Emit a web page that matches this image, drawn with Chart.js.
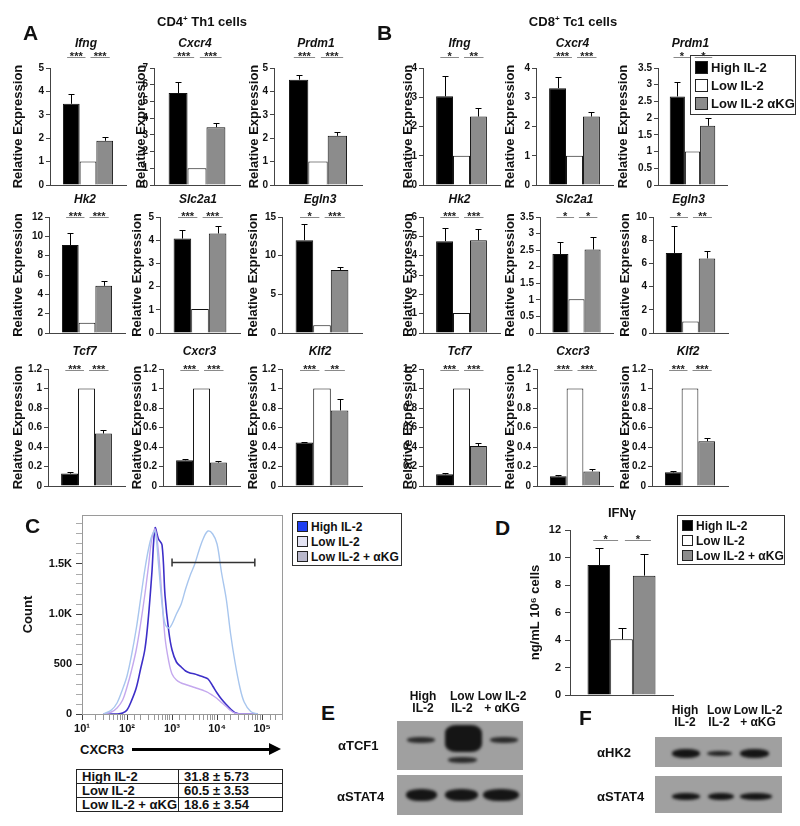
<!DOCTYPE html>
<html>
<head>
<meta charset="utf-8">
<title>IL-2 / aKG figure</title>
<script src="https://cdn.jsdelivr.net/npm/chart.js@4.4.1/dist/chart.umd.min.js"></script>
<style>
  body { margin: 0; background: #fff; }
  #fig { position: relative; width: 800px; height: 826px; overflow: hidden; font-family: "Liberation Sans", Arial, sans-serif; font-weight: bold; color: #111; }
  #fig canvas, #fig .abs { position: absolute; }
  .letter { font-size: 21px; line-height: 1; }
  .head { font-size: 13px; line-height: 1; text-align: center; white-space: nowrap; }
  .head sup { font-size: 8px; line-height: 0; vertical-align: 5px; }
  .legend { border: 1.5px solid #333; white-space: nowrap; }
  .legend .row { display: flex; align-items: center; }
  .legend .sw { display: inline-block; border: 1px solid #222; box-sizing: border-box; margin-right: 3px; }
  table.pct { border-collapse: collapse; font-size: 13px; width: 207px; }
  table.pct td { border: 1.5px solid #222; height: 13px; line-height: 13px; padding: 0 0 0 5px; white-space: nowrap; }
  .blot { background: #a0a0a0; overflow: hidden; }
  .band { position: absolute; background: #151515; border-radius: 45%; filter: blur(1.5px); }
  .lane { font-size: 12px; line-height: 12px; text-align: center; white-space: nowrap; width: 60px; }
  .ab { font-size: 13px; line-height: 1; white-space: nowrap; }
</style>
</head>
<body>
<div id="fig"></div>
<script>
// ---- data ----
const conditions = ['High IL-2', 'Low IL-2', 'Low IL-2 αKG'];
const genes = ['Ifng', 'Cxcr4', 'Prdm1', 'Hk2', 'Slc2a1', 'Egln3', 'Tcf7', 'Cxcr3', 'Klf2'];

// A: CD4+ Th1 cells
const th1High = [3.47, 5.5, 4.5, 9.1, 4.07, 12.0, 0.127, 0.264, 0.446];
const th1HighErr = [0.42, 0.66, 0.21, 1.25, 0.39, 2.14, 0.017, 0.016, 0.006];
const th1Low = [1, 1, 1, 1.05, 1.03, 0.99, 1, 1, 1];
const th1Akg = [1.89, 3.46, 2.1, 4.88, 4.29, 8.15, 0.538, 0.24, 0.775];
const th1AkgErr = [0.15, 0.24, 0.16, 0.45, 0.32, 0.43, 0.04, 0.014, 0.12];
const th1Stars = [['***', '***'], ['***', '***'], ['***', '***'], ['***', '***'], ['***', '***'], ['*', '***'], ['***', '***'], ['***', '***'], ['***', '**']];
const th1YMax = [5, 7, 5, 12, 5, 15, 1.2, 1.2, 1.2];
const th1YStep = [1, 1, 1, 2, 1, 5, 0.2, 0.2, 0.2];

// B: CD8+ Tc1 cells
const tc1High = [3.03, 3.31, 2.65, 4.75, 2.38, 6.9, 0.12, 0.1, 0.14];
const tc1HighErr = [0.71, 0.38, 0.42, 0.68, 0.37, 2.32, 0.014, 0.008, 0.017];
const tc1Low = [1, 1, 1, 1.03, 1.02, 1, 1, 1, 1];
const tc1Akg = [2.34, 2.34, 1.77, 4.8, 2.52, 6.43, 0.41, 0.15, 0.46];
const tc1AkgErr = [0.29, 0.17, 0.23, 0.6, 0.38, 0.66, 0.034, 0.02, 0.034];
const tc1Stars = [['*', '**'], ['***', '***'], ['*', '*'], ['***', '***'], ['*', '*'], ['*', '**'], ['***', '***'], ['***', '***'], ['***', '***']];
const tc1YMax = [4, 4, 3.5, 6, 3.5, 10, 1.2, 1.2, 1.2];
const tc1YStep = [1, 1, 0.5, 1, 0.5, 2, 0.2, 0.2, 0.2];

// C: CXCR3 histogram
const flowNames = ['High IL-2', 'Low IL-2', 'Low IL-2 + αKG'];
const cxcr3Bins = [30, 45, 60, 80, 100, 125, 160, 200, 250, 300, 355, 420, 500, 600, 700, 850, 1000, 1250, 1600, 2000, 2500, 3200, 4000, 5000, 6300, 8000, 10000, 12500, 16000, 20000, 25000, 32000, 40000, 56000, 80000];
const highCounts = [0, 0, 0, 10, 40, 130, 260, 450, 650, 980, 1400, 1860, 1750, 1690, 1180, 820, 640, 520, 470, 430, 410, 400, 385, 370, 350, 280, 210, 150, 95, 50, 12, 0, 0, 0, 0];
const lowCounts = [0, 40, 110, 250, 380, 580, 850, 1150, 1450, 1650, 1780, 1830, 1500, 1100, 900, 860, 900, 1000, 1100, 1250, 1380, 1500, 1640, 1760, 1830, 1800, 1700, 1420, 1150, 800, 520, 270, 120, 25, 0];
const akgCounts = [0, 20, 60, 140, 270, 430, 640, 900, 1200, 1480, 1750, 1850, 1620, 1150, 760, 520, 400, 340, 310, 295, 280, 265, 250, 235, 215, 185, 155, 115, 75, 35, 8, 0, 0, 0, 0];
const countTicks = [0, 100, 200, 300, 400, 500, 600, 700, 800, 900, 1000, 1100, 1200, 1300, 1400, 1500, 1600, 1700, 1800, 1900];
const gateRange = [1000, 69000];
const gateCount = 1520;
const cxcr3Mean = [31.8, 60.5, 18.6];
const cxcr3Sd = [5.73, 3.53, 3.54];

// D: IFNg secretion
const ifnNames = ['High IL-2', 'Low IL-2', 'Low IL-2 + αKG'];
const ifnMean = [9.45, 4.05, 8.68];
const ifnErr = [1.25, 0.82, 1.57];
const ifnStars = ['*', '*'];

// ---- styles ----
const barFill = ['#000000', '#ffffff', '#8c8c8c'];
const flowSwatch = ['#1f3ff0', '#e3e3f3', '#b9b8cc'];
const flowLine = ['#3d2fc8', '#a8c6ee', '#c4a8ee'];

Chart.defaults.font.family = '"Liberation Sans", Arial, sans-serif';
Chart.defaults.font.weight = 'bold';
Chart.defaults.color = '#111';
Chart.defaults.animation = false;
Chart.defaults.plugins.legend.display = false;
Chart.defaults.plugins.tooltip.enabled = false;

const fig = document.getElementById('fig');

function addCanvas(left, top, width, height) {
    const c = document.createElement('canvas');
    c.width = width;
    c.height = height;
    c.style.left = left + 'px';
    c.style.top = top + 'px';
    fig.appendChild(c);
    return c;
}

function addText(html, left, top, cls, extra) {
    const d = document.createElement('div');
    d.className = 'abs ' + cls;
    d.innerHTML = html;
    d.style.left = left + 'px';
    d.style.top = top + 'px';
    if (extra) d.style.cssText += extra;
    fig.appendChild(d);
    return d;
}

function addLegend(left, top, width, names, fills, box, rowH, padT, padB, fontSize) {
    const el = document.createElement('div');
    el.className = 'abs legend';
    el.style.cssText = `left:${left}px;top:${top}px;width:${width}px;padding:${padT}px 0 ${padB}px 4px;font-size:${fontSize}px;box-sizing:border-box`;
    names.forEach((n, i) => {
        const row = document.createElement('div');
        row.className = 'row';
        row.style.height = rowH + 'px';
        const sw = document.createElement('span');
        sw.className = 'sw';
        sw.style.cssText += `width:${box}px;height:${box}px;background:${fills[i]}`;
        row.appendChild(sw);
        row.appendChild(document.createTextNode(n));
        el.appendChild(row);
    });
    fig.appendChild(el);
}

function tickText(v) {
    return String(Math.round(v * 100) / 100);
}

// error bars, significance lines and the gene name for one bar panel
function barMarks(p) {
    return {
        id: 'barMarks',
        afterDatasetsDraw(chart) {
            const ctx = chart.ctx;
            const area = chart.chartArea;
            const y = chart.scales.y;
            const bars = chart.data.datasets.map((d, i) => chart.getDatasetMeta(i).data[0]);
            ctx.save();
            ctx.strokeStyle = '#000';
            ctx.lineWidth = 1;
            bars.forEach((b, i) => {
                if (!p.errors[i]) return;
                const top = Math.round(y.getPixelForValue(chart.data.datasets[i].data[0] + p.errors[i])) + 0.5;
                const x = Math.round(b.x) + 0.5;
                ctx.beginPath();
                ctx.moveTo(x, b.y);
                ctx.lineTo(x, top);
                ctx.moveTo(x - p.cap / 2, top);
                ctx.lineTo(x + p.cap / 2, top);
                ctx.stroke();
            });

            const w = bars[0].width;
            const lineY = Math.round(area.top + p.lineDy) + 0.5;
            const spans = [
                [bars[0].x - 0.25 * w, bars[1].x - 0.15 * w],
                [bars[1].x + 0.15 * w, bars[2].x + 0.3 * w]
            ];
            ctx.strokeStyle = '#8a8a8a';
            ctx.fillStyle = '#222';
            ctx.font = 'bold 11px "Liberation Sans", Arial, sans-serif';
            ctx.textAlign = 'center';
            ctx.textBaseline = 'alphabetic';
            spans.forEach((s, i) => {
                ctx.beginPath();
                ctx.moveTo(s[0], lineY);
                ctx.lineTo(s[1], lineY);
                ctx.stroke();
                ctx.fillText(p.stars[i], (s[0] + s[1]) / 2, lineY + 2);
            });

            if (p.title) {
                ctx.fillStyle = '#111';
                ctx.font = 'italic bold 12px "Liberation Sans", Arial, sans-serif';
                ctx.textBaseline = 'middle';
                ctx.fillText(p.title, (area.left + area.right) / 2 - 2, area.top + p.titleDy);
            }
            ctx.restore();
        }
    };
}

function barPanel(p) {
    const left = p.ylabelX - 8;
    const top = p.plotTop - p.padTop;
    const width = p.rightX - left + 2;
    const height = p.plotBottom - top + 9;
    const canvas = addCanvas(left, top, width, height);
    return new Chart(canvas, {
        type: 'bar',
        data: {
            labels: [''],
            datasets: p.values.map((v, i) => ({
                label: p.names[i],
                data: [v],
                backgroundColor: barFill[i],
                borderColor: '#111',
                borderWidth: 1,
                categoryPercentage: p.catPct,
                barPercentage: 1
            }))
        },
        options: {
            responsive: false,
            layout: { padding: { left: 0, top: p.padTop, right: 2, bottom: 9 } },
            scales: {
                x: {
                    ticks: { display: false },
                    grid: { display: false, drawTicks: false },
                    border: { color: '#444' },
                    afterFit: s => { s.height = 0; s.paddingLeft = 0; s.paddingRight = 0; }
                },
                y: {
                    min: 0,
                    max: p.yMax,
                    ticks: { stepSize: p.yStep, font: { size: p.tickSize }, padding: p.tickPad, color: '#111', callback: tickText, autoSkip: false, source: 'data' },
                    grid: { drawOnChartArea: false, tickLength: p.tickLen, color: '#444' },
                    border: { color: '#444' },
                    title: { display: true, text: p.yTitle, font: { size: 13 }, padding: 0, color: '#111' },
                    afterFit: s => { s.width = p.axisX - left; s.paddingTop = 0; s.paddingBottom = 0; }
                }
            }
        },
        plugins: [barMarks(p)]
    });
}

// ---- A and B: 3x3 grids of qPCR panels ----
const rowTop = [68, 217, 369];
const rowBottom = [185, 333, 486];
const titleDy = [-24, -17, -17];
const starDy = [-11, 0, 1];
// [y-title centre, y-axis x, plot right] per panel
const placeA = [[19, 50, 126], [142, 154, 240], [255, 274, 362],
                [19, 49, 125], [138, 160, 240], [254, 282, 362],
                [19, 48, 125], [138, 163, 240], [254, 282, 362]];
const placeB = [[409, 423, 500], [511, 536, 613], [624, 658, 727],
                [409, 423, 500], [511, 540, 613], [626, 653, 728],
                [409, 423, 500], [511, 537, 613], [626, 652, 728]];

function grid(place, high, highErr, low, akg, akgErr, stars, yMax, yStep) {
    genes.forEach((g, i) => {
        const r = Math.floor(i / 3);
        barPanel({
            ylabelX: place[i][0], axisX: place[i][1], rightX: place[i][2],
            plotTop: rowTop[r], plotBottom: rowBottom[r], padTop: 32,
            names: conditions,
            values: [high[i], low[i], akg[i]],
            errors: [highErr[i], 0, akgErr[i]],
            yMax: yMax[i], yStep: yStep[i],
            stars: stars[i], lineDy: starDy[r],
            title: g, titleDy: titleDy[r],
            yTitle: 'Relative Expression',
            cap: 6, catPct: 0.66, tickSize: 10, tickLen: 4, tickPad: 2
        });
    });
}

grid(placeA, th1High, th1HighErr, th1Low, th1Akg, th1AkgErr, th1Stars, th1YMax, th1YStep);
grid(placeB, tc1High, tc1HighErr, tc1Low, tc1Akg, tc1AkgErr, tc1Stars, tc1YMax, tc1YStep);

addText('A', 23, 22, 'letter');
addText('B', 377, 22, 'letter');
addText('CD4<sup>+</sup> Th1 cells', 140, 15, 'head', 'width:124px');
addText('CD8<sup>+</sup> Tc1 cells', 511, 15, 'head', 'width:124px');
addLegend(690, 55, 106, conditions, barFill, 13, 18, 2, 2, 13);

// ---- C: CXCR3 histogram ----
const sup = { 1: '¹', 2: '²', 3: '³', 4: '⁴', 5: '⁵' };

const histMarks = {
    id: 'histMarks',
    afterDatasetsDraw(chart) {
        const { ctx, chartArea: a, scales: { x, y } } = chart;
        ctx.save();
        ctx.strokeStyle = '#9a9a9a';
        ctx.lineWidth = 1;
        ctx.strokeRect(a.left + 0.5, a.top + 0.5, a.right - a.left, a.bottom - a.top);
        const gy = Math.round(y.getPixelForValue(gateCount)) + 0.5;
        const gx0 = x.getPixelForValue(gateRange[0]);
        const gx1 = x.getPixelForValue(gateRange[1]);
        ctx.strokeStyle = '#333';
        ctx.lineWidth = 1.5;
        ctx.beginPath();
        ctx.moveTo(gx0, gy);
        ctx.lineTo(gx1, gy);
        ctx.moveTo(gx0, gy - 4);
        ctx.lineTo(gx0, gy + 4);
        ctx.moveTo(gx1, gy - 4);
        ctx.lineTo(gx1, gy + 4);
        ctx.stroke();
        ctx.restore();
    }
};

function isDecade(v) {
    const e = Math.log10(v);
    return Math.abs(e - Math.round(e)) < 1e-6;
}

const histSeries = [lowCounts, akgCounts, highCounts];
const histColor = [flowLine[1], flowLine[2], flowLine[0]];
const histCanvas = addCanvas(21, 505, 265, 233);
new Chart(histCanvas, {
    type: 'line',
    data: {
        datasets: histSeries.map((counts, k) => ({
            label: [flowNames[1], flowNames[2], flowNames[0]][k],
            data: cxcr3Bins.map((x, i) => ({ x: x, y: counts[i] })),
            borderColor: histColor[k],
            borderWidth: k === 2 ? 1.6 : 1.4,
            pointRadius: 0,
            tension: 0.35,
            fill: false
        }))
    },
    options: {
        responsive: false,
        layout: { padding: { left: 0, top: 10, right: 4, bottom: 0 } },
        scales: {
            x: {
                type: 'logarithmic',
                min: 10,
                max: 277000,
                ticks: {
                    autoSkip: false, maxRotation: 0, font: { size: 11 }, padding: 2, color: '#111',
                    callback: v => isDecade(v) ? '10' + sup[Math.round(Math.log10(v))] : ''
                },
                grid: {
                    drawOnChartArea: false, tickLength: 6,
                    color: c => (c.tick && isDecade(c.tick.value)) ? '#444' : '#999'
                },
                border: { color: '#999' },
                afterFit: s => { s.height = 24; s.paddingLeft = 0; s.paddingRight = 0; }
            },
            y: {
                min: 0,
                max: 1990,
                afterBuildTicks: s => { s.ticks = countTicks.map(v => ({ value: v })); },
                ticks: {
                    autoSkip: false, source: 'data', font: { size: 11 }, padding: 4, color: '#111',
                    callback: v => v % 500 === 0 ? (v >= 1000 ? (v / 1000).toFixed(1) + 'K' : String(v)) : ''
                },
                grid: {
                    drawOnChartArea: false, tickLength: 6,
                    color: c => (c.tick && c.tick.value % 500 === 0) ? '#444' : '#aaa'
                },
                border: { color: '#999' },
                title: { display: true, text: 'Count', font: { size: 13 }, padding: 0, color: '#111' },
                afterFit: s => { s.width = 61; s.paddingTop = 0; s.paddingBottom = 0; }
            }
        }
    },
    plugins: [histMarks]
});

addText('C', 25, 515, 'letter');
addLegend(292, 513, 110, flowNames, flowSwatch, 11, 15, 5, 1, 12);
addText('CXCR3', 80, 743, 'ab');
addText('', 132, 748, '', 'width:138px;height:3px;background:#000');
addText('', 269, 743, '', 'width:0;height:0;border-left:12px solid #000;border-top:6px solid transparent;border-bottom:6px solid transparent');

const tbl = document.createElement('table');
tbl.className = 'abs pct';
tbl.style.left = '76px';
tbl.style.top = '769px';
flowNames.forEach((n, i) => {
    const tr = document.createElement('tr');
    const a = document.createElement('td');
    a.textContent = n;
    a.style.width = '96px';
    const b = document.createElement('td');
    b.textContent = `${cxcr3Mean[i].toFixed(1)} ± ${cxcr3Sd[i].toFixed(2)}`;
    tr.appendChild(a);
    tr.appendChild(b);
    tbl.appendChild(tr);
});
fig.appendChild(tbl);

// ---- D: IFNg ----
barPanel({
    ylabelX: 536, axisX: 570, rightX: 673,
    plotTop: 530, plotBottom: 695, padTop: 10,
    names: ifnNames,
    values: ifnMean,
    errors: ifnErr,
    yMax: 12, yStep: 2,
    stars: ifnStars, lineDy: 10,
    title: null, titleDy: 0,
    yTitle: 'ng/mL 10⁶ cells',
    cap: 8, catPct: 0.66, tickSize: 11, tickLen: 5, tickPad: 4
});
addText('D', 495, 517, 'letter');
addText('IFNγ', 592, 506, 'head', 'width:60px');
addLegend(677, 515, 108, ifnNames, barFill, 11, 15, 2, 1, 12);

// ---- E / F: western blots ----
// band: [left, top, width, height, opacity, corner radius]
const blots = [
    { left: 397, top: 721, w: 126, h: 49, bands: [[10, 16, 28, 6, 0.85, '45%'], [48, 4, 37, 27, 1, '30%'], [51, 36, 29, 6, 0.85, '45%'], [93, 16, 28, 6, 0.85, '45%']] },
    { left: 397, top: 775, w: 126, h: 40, bands: [[9, 14, 31, 12, 1, '45%'], [48, 14, 33, 12, 1, '45%'], [86, 14, 36, 12, 1, '45%']] },
    { left: 655, top: 737, w: 127, h: 30, bands: [[17, 12, 28, 9, 1, '45%'], [52, 14, 25, 5, 0.9, '45%'], [85, 12, 29, 9, 1, '45%']] },
    { left: 655, top: 776, w: 127, h: 37, bands: [[17, 17, 28, 7, 1, '45%'], [53, 17, 26, 7, 1, '45%'], [85, 17, 32, 7, 1, '45%']] }
];
blots.forEach(bl => {
    const d = addText('', bl.left, bl.top, 'blot', `width:${bl.w}px;height:${bl.h}px`);
    bl.bands.forEach(b => {
        const band = document.createElement('div');
        band.className = 'band';
        band.style.cssText += `left:${b[0]}px;top:${b[1]}px;width:${b[2]}px;height:${b[3]}px;opacity:${b[4]};border-radius:${b[5]}`;
        d.appendChild(band);
    });
});

addText('E', 321, 702, 'letter');
addText('High<br>IL-2', 393, 690, 'lane');
addText('Low<br>IL-2', 432, 690, 'lane');
addText('Low IL-2<br>+ αKG', 472, 690, 'lane');
addText('αTCF1', 338, 739, 'ab');
addText('αSTAT4', 337, 790, 'ab');

addText('F', 579, 707, 'letter');
addText('High<br>IL-2', 655, 704, 'lane');
addText('Low<br>IL-2', 689, 704, 'lane');
addText('Low IL-2<br>+ αKG', 728, 704, 'lane');
addText('αHK2', 597, 746, 'ab');
addText('αSTAT4', 597, 790, 'ab');
</script>
</body>
</html>
